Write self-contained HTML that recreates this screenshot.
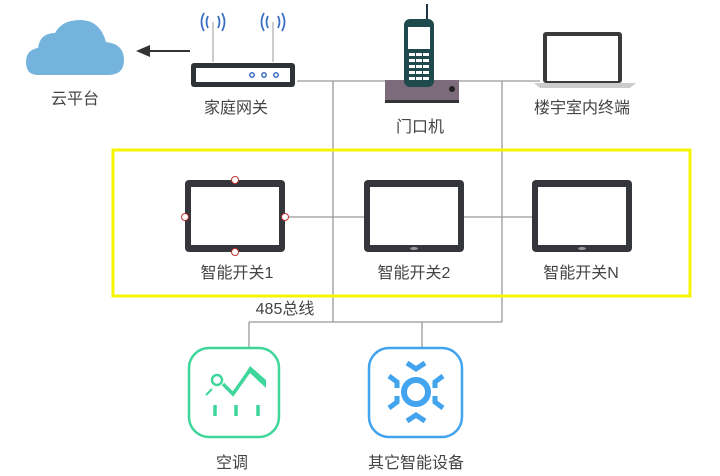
<!DOCTYPE html>
<html><head><meta charset="utf-8"><style>
body{margin:0;width:720px;height:476px;background:#fff;overflow:hidden;font-family:"Liberation Sans","Noto Sans CJK SC",sans-serif}
svg{position:absolute;left:0;top:0}
</style></head><body>
<svg width="720" height="476" viewBox="0 0 720 476" font-family="Liberation Sans, Noto Sans CJK SC, sans-serif">
<g stroke="#999" stroke-width="1.3" fill="none">
<path d="M297 81H540M333 81V322M502 81V322M249 322H502M249 322V347M422 322V347M285 217H364M464 217H532"/>
</g>
<path d="M38 75 Q26 75 26 62 Q26 50 38 48 Q40 33 55 33 Q62 20 80 20 Q100 20 106 42 Q124 44 124 60 Q124 75 108 75 Z" fill="#74b3dc"/>
<text x="75" y="104" font-size="16" fill="#444" text-anchor="middle">云平台</text>
<path d="M190 51H148" stroke="#333" stroke-width="2"/>
<path d="M136 51L150 45V57Z" fill="#333"/>
<g stroke="#aaa" stroke-width="1.2"><path d="M213 22V62M273 22V62"/></g>
<g fill="none" stroke="#3a6fc4" stroke-width="1.8">
<path d="M208 16Q205 22 208 28M218 16Q221 22 218 28M268 16Q265 22 268 28M278 16Q281 22 278 28"/>
<path d="M204 13Q199 22 204 31M222 13Q227 22 222 31M264 13Q259 22 264 31M282 13Q287 22 282 31"/>
</g>
<rect x="191" y="63" width="104" height="24" rx="3" fill="#2f3338"/>
<rect x="196" y="68" width="94" height="14" fill="#fff"/>
<g fill="none" stroke="#3a6fc4" stroke-width="1.5"><circle cx="252" cy="75" r="2.2"/><circle cx="264" cy="75" r="2.2"/><circle cx="276" cy="75" r="2.2"/></g>
<text x="236" y="113" font-size="16" fill="#444" text-anchor="middle">家庭网关</text>
<path d="M427 4V20" stroke="#234" stroke-width="2"/>
<rect x="385" y="80" width="74" height="23" fill="#7c6b7a"/>
<rect x="385" y="100" width="74" height="3" fill="#333"/>
<circle cx="452" cy="89" r="3" fill="#222"/>
<rect x="404" y="19" width="30" height="68" rx="6" fill="#1f4a4d"/>
<rect x="408" y="27" width="22" height="22" fill="#fff"/>
<g fill="#fff">
<rect x="409" y="53" width="6" height="3"/><rect x="416" y="53" width="6" height="3"/><rect x="423" y="53" width="6" height="3"/>
<rect x="409" y="59" width="6" height="3"/><rect x="416" y="59" width="6" height="3"/><rect x="423" y="59" width="6" height="3"/>
<rect x="409" y="65" width="6" height="3"/><rect x="416" y="65" width="6" height="3"/><rect x="423" y="65" width="6" height="3"/>
<rect x="409" y="71" width="6" height="3"/><rect x="416" y="71" width="6" height="3"/><rect x="423" y="71" width="6" height="3"/>
<rect x="409" y="77" width="6" height="3"/><rect x="416" y="77" width="6" height="3"/><rect x="423" y="77" width="6" height="3"/>
</g>
<text x="420" y="132" font-size="16" fill="#444" text-anchor="middle">门口机</text>
<rect x="543" y="32" width="79" height="51" rx="3" fill="#3a3a3c"/>
<rect x="547" y="36" width="71" height="45" fill="#fff"/>
<path d="M534 83H636L630 88H540Z" fill="#ccc"/>
<text x="582" y="113" font-size="16" fill="#444" text-anchor="middle">楼宇室内终端</text>
<rect x="113" y="150" width="577" height="146" fill="none" stroke="#f5f500" stroke-width="3"/>
<g fill="#34363c">
<rect x="185" y="180" width="100" height="72" rx="4"/>
<rect x="364" y="180" width="100" height="72" rx="4"/>
<rect x="532" y="180" width="100" height="72" rx="4"/>
</g>
<g fill="#fff">
<rect x="191" y="187" width="88" height="58"/>
<rect x="370" y="187" width="88" height="58"/>
<rect x="538" y="187" width="88" height="58"/>
</g>
<g fill="#999"><ellipse cx="414" cy="248.5" rx="4" ry="1.5"/><ellipse cx="582" cy="248.5" rx="4" ry="1.5"/></g>
<g fill="#fff" stroke="#b33" stroke-width="1"><circle cx="235" cy="180" r="3.5"/><circle cx="235" cy="252" r="3.5"/><circle cx="185" cy="217" r="3.5"/><circle cx="285" cy="217" r="3.5"/></g>
<g font-size="16" fill="#444" text-anchor="middle">
<text x="237" y="278">智能开关1</text>
<text x="414" y="278">智能开关2</text>
<text x="581" y="278">智能开关N</text>
<text x="285" y="314">485总线</text>
</g>
<rect x="189" y="348" width="90" height="89" rx="20" fill="none" stroke="#3ed69a" stroke-width="2.5"/>
<g fill="none" stroke="#3ed69a" stroke-width="3.5">
<circle cx="217" cy="380" r="5" stroke-width="2.5"/>
<path d="M223 384L233 394L250 370L262 382"/>
<path d="M215 405V416M236 405V416M258 405V416"/>
<path d="M206 395L212 389" stroke-width="2"/>
</g>
<path d="M233 394L250 366L266 380V388L250 373Z" fill="#3ed69a"/>
<text x="232" y="468" font-size="16" fill="#444" text-anchor="middle">空调</text>
<rect x="369" y="348" width="93" height="89" rx="20" fill="none" stroke="#42a3ef" stroke-width="2.5"/>
<circle cx="416" cy="392" r="12" fill="none" stroke="#42a3ef" stroke-width="6"/>
<g fill="none" stroke="#42a3ef" stroke-width="5">
<path d="M407 363L416 369L425 363M407 421L416 415L425 421M389 376L397 382V388M443 376L435 382V388M389 408L397 402V396M443 408L435 402V396"/>
</g>
<text x="416" y="468" font-size="16" fill="#444" text-anchor="middle">其它智能设备</text>
</svg>
</body></html>
